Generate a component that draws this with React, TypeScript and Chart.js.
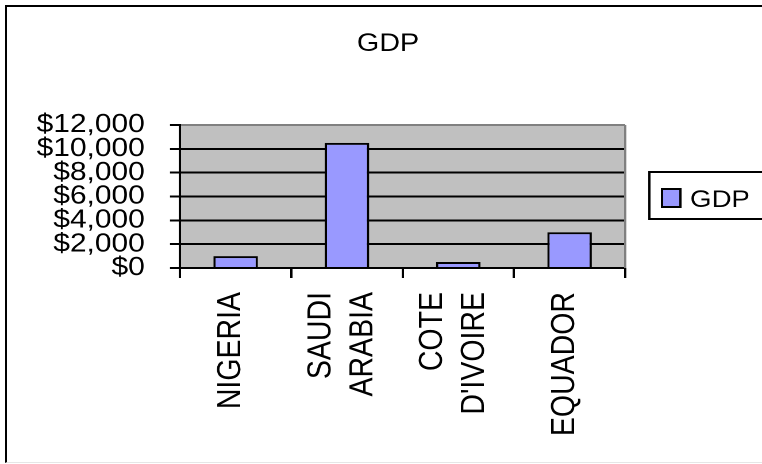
import { useEffect, useRef } from 'react';
import { Chart, registerables } from 'chart.js';

Chart.register(...registerables);

// Chart data
const categories: string[][] = [['NIGERIA'], ['SAUDI', 'ARABIA'], ['COTE', "D'IVOIRE"], ['EQUADOR']];
const gdpValues: number[] = [1000, 10500, 500, 3000];
const seriesName = 'GDP';
const chartTitle = 'GDP';
const yMin = 0;
const yMax = 12000;
const yStep = 2000;

// Drawing surface: the canvas is drawn narrower and widened with CSS,
// giving the broad lettering of the original worksheet chart.
const FONT = "'Liberation Sans', Arial, Helvetica, sans-serif";
const W = 663;
const H = 464;
const SX = 762 / W;

const BAR_FILL = '#9999FF';
const PLOT_FILL = '#C0C0C0';
const PLOT_EDGE = '#808080';

const decorations = {
  id: 'decorations',
  beforeDraw(chart: any) {
    const { ctx, chartArea: a } = chart;
    ctx.save();
    ctx.fillStyle = PLOT_FILL;
    ctx.fillRect(a.left, a.top, a.right - a.left, a.bottom - a.top);
    ctx.restore();
  },
  beforeDatasetsDraw(chart: any) {
    const { ctx, chartArea: a } = chart;
    ctx.save();
    ctx.strokeStyle = PLOT_EDGE;
    ctx.lineWidth = 2;
    ctx.beginPath();
    ctx.moveTo(a.right, a.top);
    ctx.lineTo(a.right, a.bottom);
    ctx.stroke();
    ctx.restore();
  },
  afterDraw(chart: any) {
    const { ctx, chartArea: a } = chart;
    const xScale = chart.scales.x;
    ctx.save();
    ctx.fillStyle = '#000';

    // title
    ctx.font = `25px ${FONT}`;
    ctx.textAlign = 'center';
    ctx.textBaseline = 'middle';
    ctx.fillText(chartTitle, 337.6, 44);

    // category labels, rotated and centred as a block under each bar
    ctx.font = `28.5px ${FONT}`;
    ctx.textAlign = 'right';
    ctx.textBaseline = 'middle';
    const lh = 36.5;
    categories.forEach((lines, i) => {
      const cx = xScale.getPixelForValue(i) - 4;
      ctx.save();
      ctx.translate(cx, a.bottom + 24);
      ctx.rotate(-Math.PI / 2);
      lines.forEach((line, j) => {
        ctx.fillText(line, 0, (j - (lines.length - 1) / 2) * lh);
      });
      ctx.restore();
    });

    // legend
    ctx.strokeStyle = '#000';
    ctx.lineWidth = 2;
    ctx.strokeRect(565, 172, 120, 47);
    ctx.fillStyle = BAR_FILL;
    ctx.fillRect(576, 189, 16, 18);
    ctx.strokeRect(576, 189, 16, 18);
    ctx.fillStyle = '#000';
    ctx.font = `24px ${FONT}`;
    ctx.textAlign = 'left';
    ctx.textBaseline = 'alphabetic';
    ctx.fillText(seriesName, 600.4, 207);
    ctx.restore();
  },
};

export default function App() {
  const ref = useRef<HTMLCanvasElement>(null);

  useEffect(() => {
    const chart = new Chart(ref.current as HTMLCanvasElement, {
      type: 'bar',
      data: {
        labels: categories.map((c) => c.join(' ')),
        datasets: [
          {
            label: seriesName,
            data: gdpValues,
            backgroundColor: BAR_FILL,
            borderColor: '#000',
            borderWidth: 2,
            barPercentage: 0.4,
            categoryPercentage: 1,
          },
        ],
      },
      plugins: [decorations],
      options: {
        animation: false,
        responsive: false,
        maintainAspectRatio: false,
        devicePixelRatio: 2,
        layout: { padding: { top: 125, right: 119, bottom: 0, left: 0 } },
        plugins: {
          legend: { display: false },
          title: { display: false },
          tooltip: { enabled: false },
        },
        scales: {
          x: {
            type: 'category',
            offset: true,
            grid: {
              offset: true,
              drawOnChartArea: false,
              drawTicks: true,
              tickLength: 10,
              tickColor: '#000',
              tickWidth: 2,
              color: '#000',
              lineWidth: 2,
            },
            border: { display: true, color: '#000', width: 2 },
            ticks: { display: false },
            afterFit: (scale: any) => {
              scale.height = 196;
            },
          },
          y: {
            min: yMin,
            max: yMax,
            grid: {
              color: (c: any) => (c.tick && c.tick.value === yMax ? PLOT_EDGE : '#000'),
              lineWidth: 2,
              drawTicks: true,
              tickLength: 8.7,
              tickColor: '#000',
              tickWidth: 2,
            },
            border: { display: true, color: '#000', width: 2 },
            ticks: {
              stepSize: yStep,
              autoSkip: false,
              color: '#000',
              padding: 22,
              font: { family: FONT, size: 26 },
              callback: (v: any) => '$' + Number(v).toLocaleString('en-US'),
            },
            afterFit: (scale: any) => {
              scale.width = 156.6;
            },
          },
        },
      },
    } as any);
    return () => chart.destroy();
  }, []);

  return (
    <div
      style={{
        position: 'fixed',
        left: 0,
        top: 0,
        width: 762,
        height: 464,
        overflow: 'hidden',
        background: '#fff',
      }}
    >
      <div
        style={{
          position: 'absolute',
          left: 5,
          top: 5,
          width: 800,
          height: 458,
          boxSizing: 'border-box',
          borderLeft: '2px solid #000',
          borderTop: '2px solid #000',
          borderBottom: '1px solid #e6e6e6',
        }}
      />
      <div
        style={{
          position: 'absolute',
          left: 0,
          top: 0,
          width: W,
          height: H,
          transform: `scaleX(${SX})`,
          transformOrigin: '0 0',
        }}
      >
        <canvas ref={ref} width={W} height={H} style={{ display: 'block' }} />
      </div>
    </div>
  );
}
